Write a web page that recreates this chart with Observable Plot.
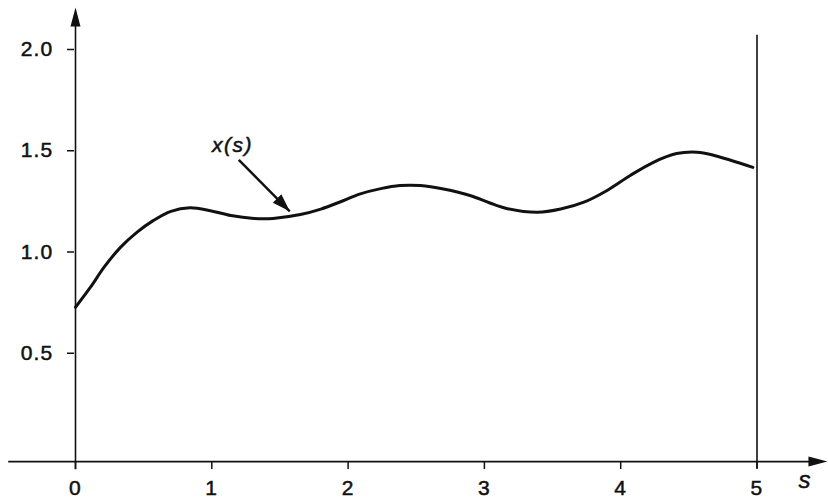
<!DOCTYPE html>
<html>
<head>
<meta charset="utf-8">
<script src="https://cdn.jsdelivr.net/npm/d3@7"></script>
<script src="https://cdn.jsdelivr.net/npm/@observablehq/plot@0.6"></script>
<style>
  html, body { margin: 0; padding: 0; background: #fff; }
  #chart svg { display: block; }
  #chart g[aria-label$="tick label"] { font-size: 21px !important; letter-spacing: 1.2px; }
  #chart g[aria-label$="tick label"] text { font-size: 21px !important; }
  #chart text { stroke: #111; stroke-width: 0.5px; }
  #chart .curve-label text { letter-spacing: 1.5px; }
</style>
</head>
<body>
<div id="chart"></div>
<script>
// ---- data ----
const sValues = [0, 0.11, 0.21, 0.33, 0.45, 0.57, 0.70, 0.84, 0.99, 1.14, 1.31, 1.45, 1.65, 1.80, 1.94, 2.09, 2.24, 2.38, 2.53, 2.70, 2.90, 3.04, 3.17, 3.39, 3.56, 3.73, 3.90, 4.07, 4.24, 4.41, 4.56, 4.68, 4.97];
const xValues = [0.727, 0.826, 0.925, 1.023, 1.097, 1.155, 1.201, 1.218, 1.204, 1.180, 1.166, 1.166, 1.185, 1.212, 1.247, 1.287, 1.313, 1.328, 1.328, 1.311, 1.278, 1.242, 1.214, 1.196, 1.212, 1.246, 1.304, 1.378, 1.443, 1.486, 1.493, 1.478, 1.418];
const xTicks = [0, 1, 2, 3, 4, 5];
const yTicks = [0.5, 1.0, 1.5, 2.0];
const curveLabel = "x(s)";
const axisLabel = "s";
const sEnd = 5;

// annotation anchor points (data coordinates)
const baseline = -0.035;
const labelPos = {s: 1.152, v: 1.526};
const pointerFrom = {s: 1.198, v: 1.455};
const pointerTo = {s: 1.572, v: 1.201};

const data = sValues.map((s, i) => ({s, v: xValues[i]}));

function tri(len, half) {
  return {
    draw(ctx) {
      ctx.moveTo(0, 0);
      ctx.lineTo(-len, -half);
      ctx.lineTo(-len, half);
      ctx.closePath();
    }
  };
}

const W = 828, H = 501;
const xRange = [75, 756.5];
const yRange = [454, 49];
const xs = d3.scaleLinear([0, 5], xRange);
const ys = d3.scaleLinear([0, 2], yRange);
const pointerAngle = Math.atan2(ys(pointerTo.v) - ys(pointerFrom.v), xs(pointerTo.s) - xs(pointerFrom.s)) * 180 / Math.PI;

const chart = Plot.plot({
  width: W,
  height: H,
  marginLeft: 74,
  marginRight: 71,
  marginTop: 49,
  marginBottom: 40,
  x: {domain: [0, 5], range: xRange},
  y: {domain: [0, 2], range: yRange},
  style: {fontFamily: "'Liberation Sans', Arial, sans-serif", fontSize: "20px", color: "#111", background: "#fff"},
  marks: [
    // x axis line with arrow
    Plot.ruleY([baseline], {x1: -0.49, x2: 5.40, stroke: "#111", strokeWidth: 1.6}),
    Plot.dot([{s: 5.517, v: baseline}], {x: "s", y: "v", symbol: tri(19, 5), fill: "#111", stroke: "none", r: 5}),
    // y axis line with arrow
    Plot.ruleX([0], {y1: -0.075, y2: 2.12, stroke: "#111", strokeWidth: 1.6}),
    Plot.dot([{s: 0, v: 2.207}], {x: "s", y: "v", symbol: tri(19, 5), rotate: -90, fill: "#111", stroke: "none", r: 5}),
    // vertical line at s = 5
    Plot.ruleX([sEnd], {y1: -0.07, y2: 2.07, stroke: "#111", strokeWidth: 1.6}),
    // ticks & labels
    Plot.axisX(xTicks, {tickSize: 8, tickPadding: 11, label: null, tickFormat: d3.format("d"), fontSize: 21, strokeWidth: 1.5}),
    Plot.axisY(yTicks, {tickSize: 7, tickPadding: 14, label: null, tickFormat: d3.format(".1f"), fontSize: 21, strokeWidth: 1.5}),
    // curve
    Plot.line(data, {x: "s", y: "v", curve: "catmull-rom", stroke: "#111", strokeWidth: 3}),
    // pointer arrow
    Plot.link([{x1: pointerFrom.s, y1: pointerFrom.v, x2: pointerTo.s, y2: pointerTo.v}], {x1: "x1", y1: "y1", x2: "x2", y2: "y2", stroke: "#111", strokeWidth: 2.5}),
    Plot.dot([pointerTo], {x: "s", y: "v", symbol: tri(18, 6), rotate: pointerAngle, fill: "#111", stroke: "none", r: 5}),
    // labels
    Plot.text([curveLabel], {x: labelPos.s, y: labelPos.v, text: d => d, fontStyle: "italic", fontSize: 21, fill: "#111", className: "curve-label"}),
    Plot.text([axisLabel], {x: 5.348, y: -0.128, text: d => d, fontStyle: "italic", fontSize: 24, fill: "#111"})
  ]
});
document.getElementById("chart").appendChild(chart);
</script>
</body>
</html>
